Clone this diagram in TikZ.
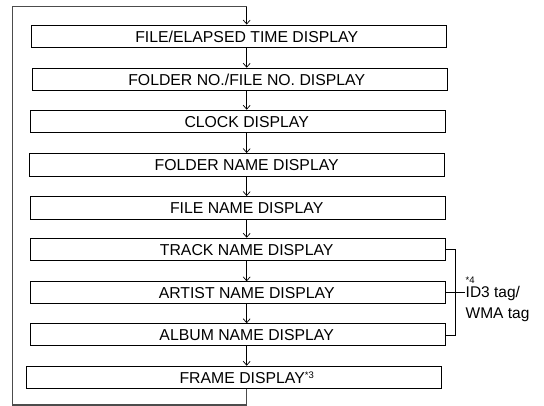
\documentclass[tikz,border=0pt]{standalone}
\usepackage{fontspec}
\setmainfont{Liberation Sans}
\usetikzlibrary{arrows.meta}
\begin{document}
\begin{tikzpicture}[x=1pt,y=-1pt,
  box/.style={draw=black,line width=0.9pt,inner sep=0pt,minimum width=415pt,minimum height=22pt},
  lbl/.style={inner sep=0pt,font=\fontsize{15.8}{18}\selectfont},
  side/.style={inner sep=0pt,font=\fontsize{15.5}{21}\selectfont,align=left,anchor=west},
  note/.style={inner sep=0pt,font=\fontsize{9.5}{10}\selectfont},
  flow/.style={draw=black,line width=0.8pt,-{Straight Barb[length=4pt,width=7pt,line width=0.7pt]}},
  loop/.style={draw=black!70,line width=1.2pt},
  brk/.style={draw=black,line width=0.8pt}]
\useasboundingbox (0,0) rectangle (544,406);
\fill[white] (0,0) rectangle (544,406);
% boxes
\node[box] (b1) at (239.2,36) {};
\node[box] (b2) at (239.8,79.2) {};
\node[box] (b3) at (238.3,121.2) {};
\node[box,minimum width=414.6pt,minimum height=23pt] (b4) at (237,165) {};
\node[box,minimum height=23pt] (b5) at (238.2,208) {};
\node[box] (b6) at (238.2,249.2) {};
\node[box] (b7) at (238.3,292.8) {};
\node[box] (b8) at (238.3,334.7) {};
\node[box,minimum width=415.7pt] (b9) at (233.8,377.2) {};
% labels
\node[lbl] (t1) at (246.7,36.5) {FILE/ELAPSED TIME DISPLAY};
\node[lbl] (t2) at (246.7,79.7) {FOLDER NO./FILE NO. DISPLAY};
\node[lbl] (t3) at (246.7,121.7) {CLOCK DISPLAY};
\node[lbl] (t4) at (246.7,165.5) {FOLDER NAME DISPLAY};
\node[lbl] (t5) at (246.7,208.5) {FILE NAME DISPLAY};
\node[lbl] (t6) at (246.7,249.7) {TRACK NAME DISPLAY};
\node[lbl] (t7) at (246.7,293.3) {ARTIST NAME DISPLAY};
\node[lbl] (t8) at (246.7,335.2) {ALBUM NAME DISPLAY};
\node[lbl] (t9) at (246.7,377.7) {FRAME DISPLAY\raisebox{4.5pt}{\fontsize{9.5}{10}\selectfont *3}};
% loop
\coordinate (lb) at (246.7,405);
\coordinate (ll) at (12.7,405);
\coordinate (lt) at (12.7,6.7);
\coordinate (lr) at (246.7,6.7);
\draw[loop] (b9.south -| lb) -- (lb) -- (ll) -- (lt) -- (lr);
\draw[flow] (lr) -- (b1.north -| lr);
% flow arrows
\foreach \a/\b in {b1/b2,b2/b3,b3/b4,b4/b5,b5/b6,b6/b7,b7/b8,b8/b9}
  \draw[flow] (\a.south -| lr) -- (\b.north -| lr);
% bracket
\coordinate (bx) at (455.7,0);
\coordinate (tk) at (465,292.3);
\draw[brk] (b6.east |- 0,249) -- (bx |- 0,249) -- (bx |- 0,335) -- (b8.east |- 0,335);
\draw[brk] (b7.east |- tk) -- (tk);
% side text
\node[note,anchor=south west] (n4) at (465.5,284) {*4};
\node[side] (id3) at (465.5,304) {ID3 tag/\\WMA tag};
\end{tikzpicture}
\end{document}
